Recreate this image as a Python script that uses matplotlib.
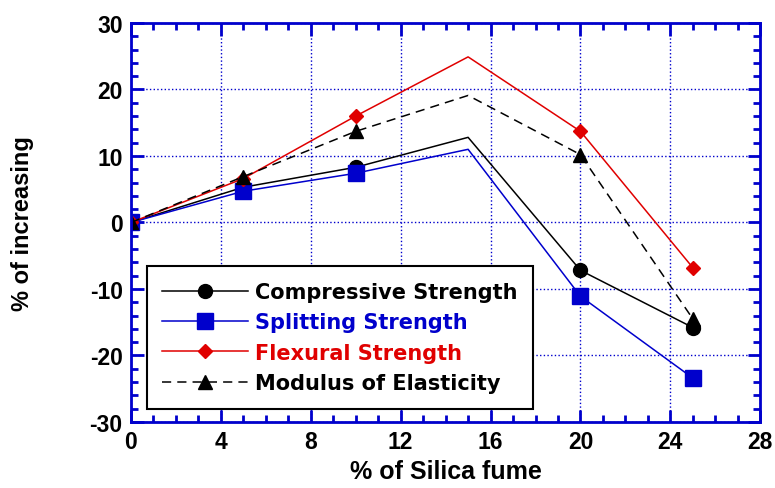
import numpy as np
from matplotlib import pyplot as plt
from matplotlib.ticker import MultipleLocator

plt.rcParams['font.family'] = ['Liberation Sans', 'DejaVu Sans']
plt.rcParams['font.weight'] = 'bold'
plt.rcParams['axes.unicode_minus'] = False

silica = [0, 5, 10, 15, 20, 25]  # % of silica fume
compressive = [0, 5.3, 8.3, 12.8, -7.2, -15.8]
splitting = [0, 4.7, 7.4, 11.0, -11.1, -23.4]
flexural = [0, 6.6, 16.0, 24.9, 13.7, -6.8]
modulus = [0, 6.9, 13.7, 19.1, 10.2, -14.5]

# no marker on the 15% point
marks = [0, 1, 2, 4, 5]

fig = plt.figure(figsize=(7.75, 4.89), dpi=100)
ax = fig.add_axes([0.169, 0.135, 0.812, 0.816])

ax.plot(silica, compressive, color='black', lw=1.1, marker='o', ms=10,
        markevery=marks, label='Compressive Strength')
ax.plot(silica, splitting, color='#0000cc', lw=1.1, marker='s', ms=11,
        markevery=marks, label='Splitting Strength')
ax.plot(silica, flexural, color='#e00000', lw=1.1, marker='D', ms=7.5,
        markevery=marks, label='Flexural Strength')
ax.plot(silica, modulus, color='black', lw=1.1, ls=(0, (6, 4)), marker='^', ms=10,
        markevery=marks, label='Modulus of Elasticity')

ax.set_xlim(0, 28)
ax.set_ylim(-30, 30)
ax.xaxis.set_major_locator(MultipleLocator(4))
ax.xaxis.set_minor_locator(MultipleLocator(1))
ax.yaxis.set_major_locator(MultipleLocator(10))
ax.yaxis.set_minor_locator(MultipleLocator(2))

blue = '#0000cc'
for s in ax.spines.values():
    s.set_color(blue)
    s.set_linewidth(2)
ax.tick_params(which='both', direction='in', top=True, right=True, color=blue,
               labelsize=16.5, width=2, pad=6)
ax.tick_params(which='major', length=9)
ax.tick_params(which='minor', length=5)
ax.grid(True, which='major', color=blue, ls=':', lw=1)

ax.set_xlabel('% of Silica fume', fontsize=18, fontweight='bold', labelpad=4)
ax.set_ylabel('% of increasing', fontsize=17, fontweight='bold', labelpad=40)

leg = ax.legend(loc='lower left', bbox_to_anchor=(0.025, 0.033),
                prop={'family': 'DejaVu Sans', 'weight': 'bold', 'size': 15},
                labelcolor='linecolor', fancybox=False, framealpha=1,
                edgecolor='black', handlelength=4.1, borderpad=0.75,
                labelspacing=0.5, handletextpad=0.33, borderaxespad=0)
leg.get_frame().set_linewidth(1.5)

fig.savefig('out.png', dpi=100)
